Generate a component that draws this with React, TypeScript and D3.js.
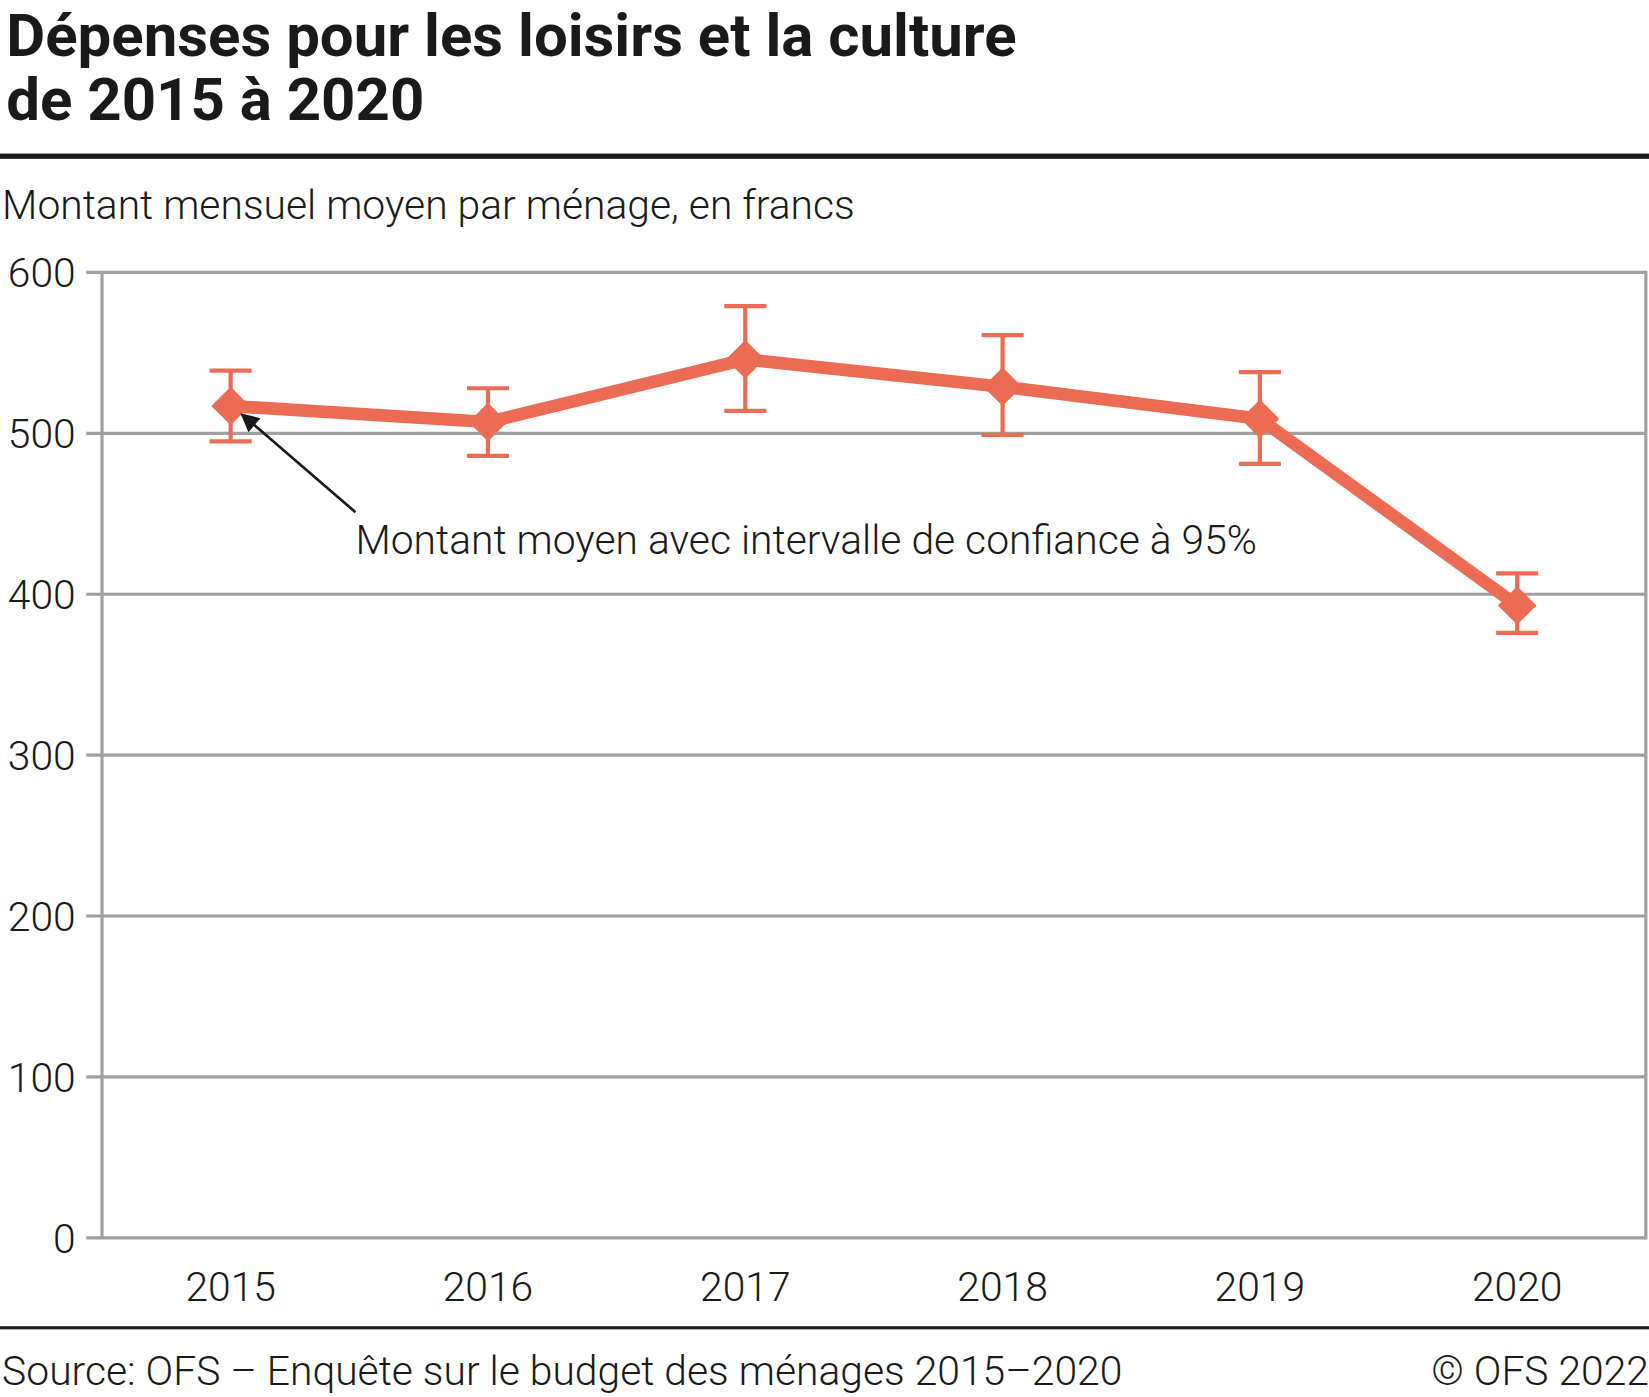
import React, { useEffect, useRef } from "react";
import * as d3 from "d3";

const years = ["2015", "2016", "2017", "2018", "2019", "2020"];
const meanValues = [517, 507, 546, 529, 509, 393];
const ciLow = [495, 486, 514, 499, 481, 376];
const ciHigh = [539, 528, 579, 561, 538, 413];
const yTicks = [0, 100, 200, 300, 400, 500, 600];

const COLOR = "#eb6b55";
const GRID = "#a0a0a0";
const FONT = "Roboto, 'Noto Sans', sans-serif";
const FS = 38.8;

const App: React.FC = () => {
    const svgRef = useRef<SVGSVGElement | null>(null);

    useEffect(() => {
        if (!svgRef.current) return;
        const svg = d3.select(svgRef.current);
        svg.selectAll("*").remove();

        const W = 1568;
        const H = 1328.3;
        const plot = { left: 97, right: 1565, top: 259, bottom: 1177 };

        const x = d3.scaleBand<string>().domain(years).range([plot.left, plot.right]).padding(0);
        const y = d3.scaleLinear().domain([0, 600]).range([plot.bottom, plot.top]);
        const cx = (d: string) => (x(d) ?? 0) + x.bandwidth() / 2;

        svg.attr("viewBox", `0 0 ${W} ${H}`);

        // title
        const title = svg.append("text")
            .attr("font-family", FONT)
            .attr("font-weight", 700)
            .attr("font-size", 57)
            .attr("fill", "#1a1a1a");
        title.append("tspan").attr("x", 6).attr("y", 53).text("Dépenses pour les loisirs et la culture");
        title.append("tspan").attr("x", 6).attr("y", 114).text("de 2015 à 2020");

        svg.append("rect").attr("x", 0).attr("y", 146).attr("width", W).attr("height", 5).attr("fill", "#1a1a1a");

        svg.append("text")
            .attr("x", 2).attr("y", 208)
            .attr("font-family", FONT).attr("font-weight", 300).attr("font-size", FS)
            .attr("fill", "#1a1a1a")
            .text("Montant mensuel moyen par ménage, en francs");

        // grid
        svg.append("g").selectAll("line").data(yTicks).enter().append("line")
            .attr("x1", 82).attr("x2", plot.right)
            .attr("y1", (d) => y(d)).attr("y2", (d) => y(d))
            .attr("stroke", GRID).attr("stroke-width", 3);

        svg.append("line").attr("x1", plot.left).attr("x2", plot.left)
            .attr("y1", plot.top).attr("y2", plot.bottom)
            .attr("stroke", GRID).attr("stroke-width", 3);
        svg.append("line").attr("x1", plot.right).attr("x2", plot.right)
            .attr("y1", plot.top - 1.5).attr("y2", plot.bottom + 1.5)
            .attr("stroke", GRID).attr("stroke-width", 3);

        // y tick labels
        svg.append("g").selectAll("text").data(yTicks).enter().append("text")
            .attr("x", 72).attr("y", (d) => y(d) + 14)
            .attr("text-anchor", "end")
            .attr("font-family", FONT).attr("font-weight", 300).attr("font-size", FS)
            .attr("fill", "#1a1a1a")
            .text((d) => String(d));

        // x labels
        svg.append("g").selectAll("text").data(years).enter().append("text")
            .attr("x", (d) => cx(d)).attr("y", 1237)
            .attr("text-anchor", "middle")
            .attr("font-family", FONT).attr("font-weight", 300).attr("font-size", FS)
            .attr("fill", "#1a1a1a")
            .text((d) => d);

        // error bars
        const eb = svg.append("g").attr("stroke", COLOR).attr("stroke-width", 4);
        years.forEach((yr, i) => {
            const px = cx(yr);
            eb.append("line").attr("x1", px).attr("x2", px).attr("y1", y(ciLow[i])).attr("y2", y(ciHigh[i]));
            eb.append("line").attr("x1", px - 20).attr("x2", px + 20).attr("y1", y(ciLow[i])).attr("y2", y(ciLow[i]));
            eb.append("line").attr("x1", px - 20).attr("x2", px + 20).attr("y1", y(ciHigh[i])).attr("y2", y(ciHigh[i]));
        });

        // line
        const pts = years.map((yr, i) => ({ x: yr, v: meanValues[i] }));
        const lineGen = d3.line<{ x: string; v: number }>().x((d) => cx(d.x)).y((d) => y(d.v));
        svg.append("path").datum(pts)
            .attr("fill", "none").attr("stroke", COLOR).attr("stroke-width", 12)
            .attr("stroke-linejoin", "round")
            .attr("d", lineGen);

        // diamonds
        const diamond = d3.symbol().type(d3.symbolSquare).size(26 * 26);
        svg.append("g").selectAll("path").data(pts).enter().append("path")
            .attr("d", diamond)
            .attr("transform", (d) => `translate(${cx(d.x)},${y(d.v)}) rotate(45)`)
            .attr("fill", COLOR);

        // annotation arrow
        svg.append("defs").append("marker")
            .attr("id", "arrowhead")
            .attr("viewBox", "0 0 10 10")
            .attr("refX", 9).attr("refY", 5)
            .attr("markerWidth", 9).attr("markerHeight", 7)
            .attr("markerUnits", "strokeWidth")
            .attr("orient", "auto")
            .append("path").attr("d", "M0,0 L10,5 L0,10 Z").attr("fill", "#1a1a1a");
        svg.append("line")
            .attr("x1", 338).attr("y1", 487).attr("x2", 230).attr("y2", 394)
            .attr("stroke", "#1a1a1a").attr("stroke-width", 2.5)
            .attr("marker-end", "url(#arrowhead)");
        svg.append("text")
            .attr("x", 338).attr("y", 527)
            .attr("font-family", FONT).attr("font-weight", 300).attr("font-size", FS)
            .attr("fill", "#1a1a1a")
            .text("Montant moyen avec intervalle de confiance à 95%");

        // footer
        svg.append("rect").attr("x", 0).attr("y", 1261).attr("width", W).attr("height", 3).attr("fill", "#1a1a1a");
        svg.append("text")
            .attr("x", 2).attr("y", 1317)
            .attr("font-family", FONT).attr("font-weight", 300).attr("font-size", FS)
            .attr("fill", "#1a1a1a")
            .text("Source: OFS – Enquête sur le budget des ménages 2015–2020");
        svg.append("text")
            .attr("x", W).attr("y", 1317).attr("text-anchor", "end")
            .attr("font-family", FONT).attr("font-weight", 300).attr("font-size", FS)
            .attr("fill", "#1a1a1a")
            .text("© OFS 2022");
    }, []);

    return (
        <svg
            ref={svgRef}
            width={1649}
            height={1397}
            style={{ position: "absolute", left: 0, top: 0, background: "#fff" }}
        />
    );
};

export default App;
